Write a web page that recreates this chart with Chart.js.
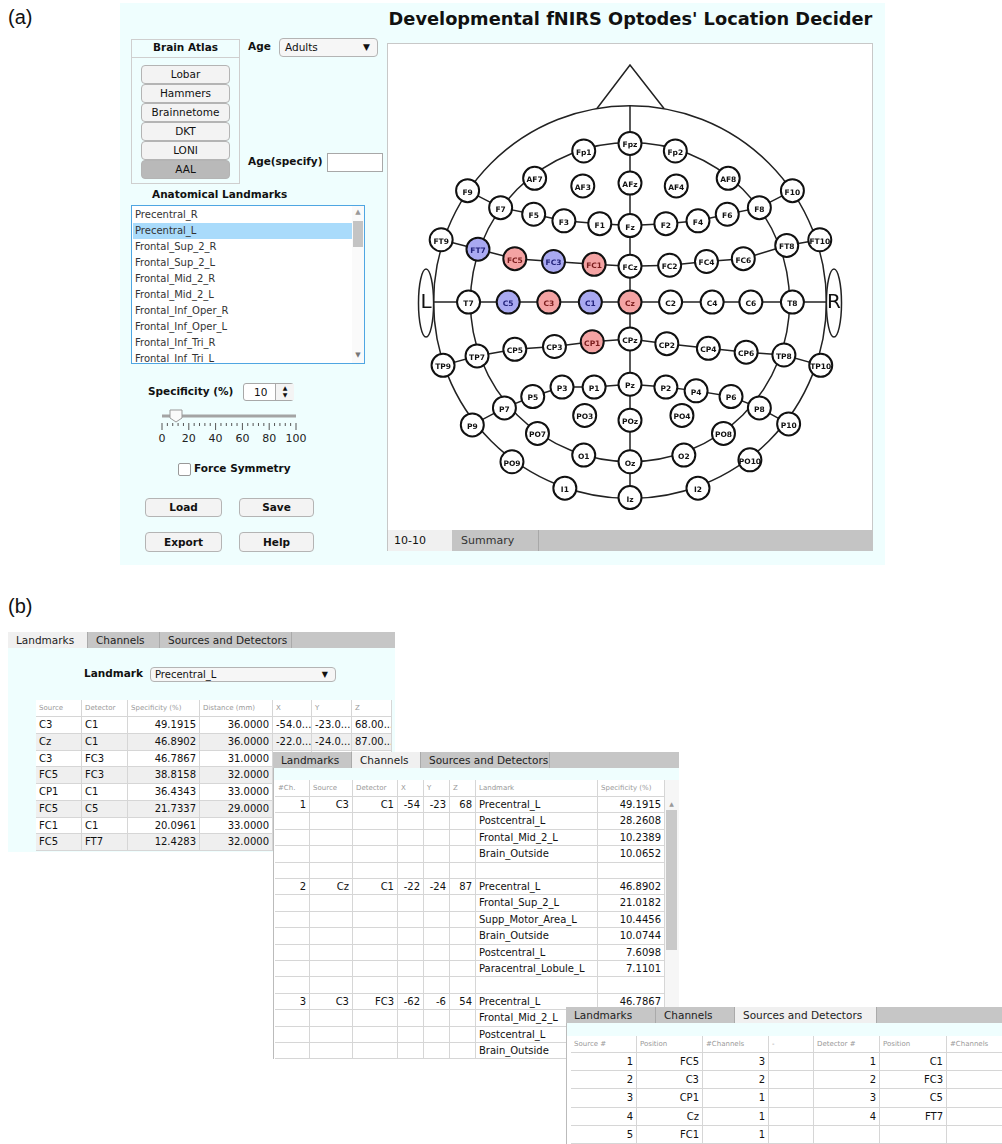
<!DOCTYPE html>
<html lang="en">
<head>
<meta charset="UTF-8">
<title>Developmental fNIRS Optodes' Location Decider</title>
<script src="https://cdn.jsdelivr.net/npm/chart.js"></script>
<style>
  body { margin: 0; background: #fff; font-family: "DejaVu Sans", sans-serif; color: #111; }
  #page { position: relative; width: 1002px; height: 1144px; overflow: hidden; }
  .a { position: absolute; white-space: nowrap; }
  .b { font-weight: bold; font-size: 10.5px; }
  .btn { position: absolute; box-sizing: border-box; border: 1px solid #b4b4b4; border-radius: 4px;
         background: #f3f3f3; font-size: 10.5px; text-align: center; }
  .fig { font-family: "Liberation Sans", Arial, sans-serif; font-size: 20px; }
  .cyan { background: #effefe; }
  .tabbar { position: absolute; background: #c6c6c6; height: 16px; font-size: 10.5px; }
  .tab { position: absolute; top: 0; height: 16px; line-height: 16px; box-sizing: border-box;
         border-right: 1px solid #aaa; padding-left: 8px; color: #222; }
  .tab.on { background: #f0f0f0; }
  .cell { position: absolute; box-sizing: border-box; border-right: 1px solid #d6d6d6; border-bottom: 1px solid #d6d6d6;
          overflow: hidden; white-space: nowrap; padding: 0 3px; font-size: 10px; }
  .hd { font-size: 7px; color: #999; }
</style>
</head>
<body>
<div id="page">
  <div class="a fig" style="left:8px;top:6px;">(a)</div>
  <div class="a fig" style="left:8px;top:595px;">(b)</div>

  <!-- panel (a) -->
  <div class="a cyan" style="left:120px;top:3px;width:765px;height:562px;"></div>
  <div class="a" style="left:383px;top:8px;width:495px;text-align:center;font-weight:bold;font-size:17.8px;">Developmental fNIRS Optodes' Location Decider</div>
  <div class="a" style="left:387px;top:43px;width:486px;height:488px;box-sizing:border-box;border:1px solid #c8c8c8;background:#fff;"></div>
  <canvas id="head" width="484" height="487" style="position:absolute;left:388px;top:43px;"></canvas>
  <div class="a" style="left:387px;top:530px;width:486px;height:21px;background:#c4c4c4;"></div>
  <div class="a" style="left:388px;top:530px;width:64px;height:21px;background:#f0f0f0;font-size:11px;line-height:21px;padding-left:6px;box-sizing:border-box;">10-10</div>
  <div class="a" style="left:452px;top:530px;width:87px;height:21px;border-right:1px solid #a8a8a8;font-size:11px;line-height:21px;padding-left:9px;box-sizing:border-box;color:#333;">Summary</div>

  <div class="a" style="left:131px;top:39px;width:109px;height:145px;box-sizing:border-box;border:1px solid #cfcfcf;"></div>
  <div class="a" style="left:131px;top:57px;width:109px;height:1px;background:#cfcfcf;"></div>
  <div class="a b" style="left:131px;top:41px;width:109px;text-align:center;">Brain Atlas</div>
  <div id="atlas"></div>

  <div class="a b" style="left:248px;top:40px;">Age</div>
  <div class="btn" style="left:279px;top:38px;width:99px;height:19px;line-height:17px;text-align:left;padding-left:5px;background:#f6f6f6;">Adults<span style="position:absolute;right:7px;font-size:9px;">&#9660;</span></div>
  <div class="a b" style="left:248px;top:155px;">Age(specify)</div>
  <div class="a" style="left:327px;top:153px;width:56px;height:19px;box-sizing:border-box;border:1px solid #a8a8a8;background:#fff;"></div>

  <div class="a b" style="left:152px;top:188px;">Anatomical Landmarks</div>
  <div class="a" style="left:131px;top:205px;width:234px;height:159px;box-sizing:border-box;border:1px solid #4fa6e2;background:#fff;overflow:hidden;">
    <div id="lmlist" style="position:absolute;left:0;top:0;width:221px;"></div>
    <div style="position:absolute;left:220px;top:0;width:12px;height:157px;background:#fafafa;"></div>
    <div style="position:absolute;left:221px;top:15px;width:10px;height:26px;background:#c4c4c4;"></div>
    <div style="position:absolute;left:221px;top:2px;width:10px;font-size:7px;color:#999;text-align:center;">&#9650;</div>
    <div style="position:absolute;left:221px;top:145px;width:10px;font-size:7px;color:#777;text-align:center;">&#9660;</div>
  </div>

  <div class="a b" style="left:148px;top:385px;">Specificity (%)</div>
  <div class="a" style="left:243px;top:383px;width:51px;height:18px;box-sizing:border-box;border:1px solid #a8a8a8;border-radius:3px;background:#fff;font-size:10.5px;line-height:16px;">
    <span style="position:absolute;left:10px;">10</span>
    <div style="position:absolute;left:31px;top:0;width:18px;height:16px;border-left:1px solid #aaa;background:#f4f4f4;font-size:6px;line-height:7px;text-align:center;">&#9650;<br>&#9660;</div>
  </div>
  <svg class="a" style="left:150px;top:404px;" width="160" height="42" id="slider"></svg>
  <div class="a" style="left:178px;top:463px;width:13px;height:13px;box-sizing:border-box;border:1px solid #999;border-radius:2px;background:#fff;"></div>
  <div class="a b" style="left:194px;top:462px;">Force Symmetry</div>
  <div class="btn b" style="left:145px;top:498px;width:77px;height:19px;line-height:17px;">Load</div>
  <div class="btn b" style="left:239px;top:498px;width:75px;height:19px;line-height:17px;">Save</div>
  <div class="btn b" style="left:145px;top:532px;width:77px;height:20px;line-height:18px;">Export</div>
  <div class="btn b" style="left:239px;top:532px;width:75px;height:20px;line-height:18px;">Help</div>

  <!-- panel (b) -->
  <div id="win1"></div>
  <div id="win2"></div>
  <div id="win3"></div>
</div>

<script>
// 10-10 electrode layout (units: px from Cz, y up)
const electrodeNames = ['Fp1','Fpz','Fp2','AF7','AF3','AFz','AF4','AF8',
  'F9','F7','F5','F3','F1','Fz','F2','F4','F6','F8','F10',
  'FT9','FT7','FC5','FC3','FC1','FCz','FC2','FC4','FC6','FT8','FT10',
  'T7','C5','C3','C1','Cz','C2','C4','C6','T8',
  'TP9','TP7','CP5','CP3','CP1','CPz','CP2','CP4','CP6','TP8','TP10',
  'P9','P7','P5','P3','P1','Pz','P2','P4','P6','P8','P10',
  'PO9','PO7','PO3','POz','PO4','PO8','PO10','O1','Oz','O2','I1','Iz','I2'];
const electrodeX = [-49,0,48,-101,-50,0,49,104,
  -172,-137,-102,-70,-32,0,38,72,103,137,172,
  -200,-161,-122,-81,-38,0,42,81,120,166,201,
  -171,-129,-86,-42,0,43,87,128,172,
  -198,-162,-122,-80,-40,0,39,83,123,163,202,
  -167,-133,-103,-72,-38,0,38,70,107,137,168,
  -125,-98,-48,0,55,99,127,-49,0,57,-69,0,72];
const electrodeY = [160,168,160,131,123,126,123,131,
  118,100,93,86,83,81,83,86,93,100,118,
  66,56,46,43,40,38,39,43,46,60,66,
  0,0,0,0,0,0,0,0,0,
  -67,-57,-50,-47,-42,-39,-44,-49,-53,-56,-67,
  -130,-112,-100,-90,-90,-87,-90,-94,-100,-112,-129,
  -169,-139,-120,-125,-120,-139,-167,-162,-169,-162,-197,-207,-197];

const sources = ['FC5','C3','CP1','Cz','FC1'];
const detectors = ['C1','FC3','C5','FT7'];

// connecting lines of the diagram
const rowF  = ['F9','F7','F5','F3','F1','Fz','F2','F4','F6','F8','F10'];
const rowFC = ['FT9','FT7','FC5','FC3','FC1','FCz','FC2','FC4','FC6','FT8','FT10'];
const rowC  = ['T7','C5','C3','C1','Cz','C2','C4','C6','T8'];
const rowCP = ['TP9','TP7','CP5','CP3','CP1','CPz','CP2','CP4','CP6','TP8','TP10'];
const rowP  = ['P9','P7','P5','P3','P1','Pz','P2','P4','P6','P8','P10'];
const midline = ['Fpz','AFz','Fz','FCz','Cz','CPz','Pz','POz','Oz','Iz'];
const OUTER_R = 208, INNER_R = 169;

// left panel lists
const atlases = ['Lobar','Hammers','Brainnetome','DKT','LONI','AAL'];
const landmarkList = ['Precentral_R','Precentral_L','Frontal_Sup_2_R','Frontal_Sup_2_L','Frontal_Mid_2_R',
  'Frontal_Mid_2_L','Frontal_Inf_Oper_R','Frontal_Inf_Oper_L','Frontal_Inf_Tri_R','Frontal_Inf_Tri_L'];

// (b) tables
const lmHeaders = ['Source','Detector','Specificity (%)','Distance (mm)','X','Y','Z'];
const lmSource = ['C3','Cz','C3','FC5','CP1','FC5','FC1','FC5'];
const lmDetector = ['C1','C1','FC3','FC3','C1','C5','C1','FT7'];
const lmSpecificity = ['49.1915','46.8902','46.7867','38.8158','36.4343','21.7337','20.0961','12.4283'];
const lmDistance = ['36.0000','36.0000','31.0000','32.0000','33.0000','29.0000','33.0000','32.0000'];
const lmX = ['-54.0...','-22.0...','-62.0...','','','','',''];
const lmY = ['-23.0...','-24.0...','-6.00...','','','','',''];
const lmZ = ['68.00...','87.00...','54.00...','','','','',''];

const chHeaders = ['#Ch.','Source','Detector','X','Y','Z','Landmark','Specificity (%)'];
const chNum = ['1','','','','','2','','','','','','','3','','',''];
const chSource = ['C3','','','','','Cz','','','','','','','C3','','',''];
const chDetector = ['C1','','','','','C1','','','','','','','FC3','','',''];
const chX = ['-54','','','','','-22','','','','','','','-62','','',''];
const chY = ['-23','','','','','-24','','','','','','','-6','','',''];
const chZ = ['68','','','','','87','','','','','','','54','','',''];
const chLandmark = ['Precentral_L','Postcentral_L','Frontal_Mid_2_L','Brain_Outside','',
  'Precentral_L','Frontal_Sup_2_L','Supp_Motor_Area_L','Brain_Outside','Postcentral_L','Paracentral_Lobule_L','',
  'Precentral_L','Frontal_Mid_2_L','Postcentral_L','Brain_Outside'];
const chSpecificity = ['49.1915','28.2608','10.2389','10.0652','',
  '46.8902','21.0182','10.4456','10.0744','7.6098','7.1101','',
  '46.7867','','',''];

const sdHeaders = ['Source #','Position','#Channels','-','Detector #','Position','#Channels'];
const sdSourceNum = ['1','2','3','4','5'];
const sdSourcePos = ['FC5','C3','CP1','Cz','FC1'];
const sdSourceCh = ['3','2','1','1','1'];
const sdDetectorNum = ['1','2','3','4',''];
const sdDetectorPos = ['C1','FC3','C5','FT7',''];
const sdDetectorCh = ['','','','',''];

// ---------- left panel widgets ----------
let h = '';
atlases.forEach((a, i) => {
  const bg = a === 'AAL' ? '#b9b9b9' : '#f3f3f3';
  h += `<div class="btn" style="left:141px;top:${65 + i * 19}px;width:89px;height:19px;line-height:17px;background:${bg};">${a}</div>`;
});
document.getElementById('atlas').innerHTML = h;

h = '';
landmarkList.forEach((l, i) => {
  const bg = l === 'Precentral_L' ? '#a9dbfb' : 'transparent';
  h += `<div style="position:absolute;left:1px;top:${1 + i * 16}px;width:219px;height:16px;line-height:16px;padding-left:2px;font-size:10px;color:#333;background:${bg};">${l}</div>`;
});
document.getElementById('lmlist').innerHTML = h;

// slider
(function () {
  const s = document.getElementById('slider');
  const ox = 150, oy = 404;
  let g = `<line x1="${162 - ox}" y1="${416 - oy}" x2="${296 - ox}" y2="${416 - oy}" stroke="#a4a4a4" stroke-width="3"/>`;
  for (let v = 0; v <= 100; v += 4) {
    const x = 162 - ox + v * 1.34;
    const major = v % 20 === 0;
    g += `<line x1="${x}" y1="${423 - oy}" x2="${x}" y2="${(major ? 430 : 426) - oy}" stroke="#555" stroke-width="1"/>`;
  }
  for (let v = 0; v <= 100; v += 20) {
    g += `<text x="${162 - ox + v * 1.34}" y="${442 - oy}" font-size="11" text-anchor="middle" font-family="DejaVu Sans" fill="#222">${v}</text>`;
  }
  const hx = 176 - ox, hy = 410 - oy;
  g += `<polygon points="${hx - 6},${hy} ${hx + 6},${hy} ${hx + 6},${hy + 8} ${hx},${hy + 12} ${hx - 6},${hy + 8}" fill="#fafafa" stroke="#999"/>`;
  s.innerHTML = g;
})();

// ---------- tables in (b) ----------
function tabBar(left, top, width, tabs, active) {
  let x = left, out = `<div class="tabbar" style="left:${left}px;top:${top}px;width:${width}px;"></div>`;
  tabs.forEach((t, i) => {
    out += `<div class="tabbar tab${i === active ? ' on' : ''}" style="left:${x}px;top:${top}px;width:${t[1]}px;">${t[0]}</div>`;
    x += t[1];
  });
  return out;
}
function grid(left, top, widths, headH, rowH, headers, cols, aligns, stripe) {
  let out = '', x = left;
  widths.forEach((w, c) => {
    out += `<div class="cell hd" style="left:${x}px;top:${top}px;width:${w}px;height:${headH}px;line-height:${headH}px;background:#fff;">${headers[c]}</div>`;
    cols[c].forEach((v, r) => {
      const y = top + headH + r * rowH;
      const bg = stripe && r % 2 === 1 ? '#efefef' : '#fff';
      out += `<div class="cell" style="left:${x}px;top:${y.toFixed(1)}px;width:${w}px;height:${rowH.toFixed(1)}px;line-height:${rowH - 1}px;text-align:${aligns[c]};background:${bg};">${v}</div>`;
    });
    x += w;
  });
  return out;
}

document.getElementById('win1').innerHTML =
  `<div class="a cyan" style="left:8px;top:648px;width:387px;height:204px;"></div>` +
  tabBar(8, 632, 387, [['Landmarks', 80], ['Channels', 72], ['Sources and Detectors', 132]], 0) +
  `<div class="a b" style="left:84px;top:667px;">Landmark</div>` +
  `<div class="btn" style="left:150px;top:667px;width:186px;height:15px;line-height:13px;text-align:left;padding-left:4px;font-size:10px;background:#f6f6f6;">Precentral_L<span style="position:absolute;right:7px;font-size:8px;">&#9660;</span></div>` +
  `<div class="a" style="left:36px;top:700px;width:356px;height:151px;border-left:1px solid #d6d6d6;border-top:1px solid #d6d6d6;box-sizing:border-box;"></div>` +
  grid(36, 700, [46, 46, 72, 73, 39, 40, 40], 17, 16.75,
    lmHeaders, [lmSource, lmDetector, lmSpecificity, lmDistance, lmX, lmY, lmZ],
    ['left', 'left', 'right', 'right', 'left', 'left', 'left'], true);

document.getElementById('win2').innerHTML =
  `<div class="a" style="left:273px;top:752px;width:406px;height:307px;background:#fff;border-left:1px solid #bbb;box-sizing:border-box;"></div>` +
  `<div class="a cyan" style="left:274px;top:768px;width:405px;height:12px;"></div>` +
  tabBar(273, 752, 406, [['Landmarks', 79], ['Channels', 69], ['Sources and Detectors', 129]], 1) +
  grid(275, 780, [35, 43, 45, 26, 26, 26, 122, 67], 17, 16.4,
    chHeaders, [chNum, chSource, chDetector, chX, chY, chZ, chLandmark, chSpecificity],
    ['right', 'right', 'right', 'right', 'right', 'right', 'left', 'right'], false) +
  `<div class="a" style="left:665px;top:780px;width:14px;height:279px;background:#f6f6f6;"></div>` +
  `<div class="a" style="left:666px;top:810px;width:11px;height:140px;background:#c9c9c9;"></div>` +
  `<div class="a" style="left:666px;top:800px;width:11px;font-size:6px;color:#999;text-align:center;">&#9650;</div>`;

document.getElementById('win3').innerHTML =
  `<div class="a" style="left:566px;top:1007px;width:436px;height:137px;background:#fff;border-left:1px solid #bbb;box-sizing:border-box;"></div>` +
  `<div class="a cyan" style="left:567px;top:1023px;width:435px;height:13px;"></div>` +
  tabBar(566, 1007, 436, [['Landmarks', 90], ['Channels', 79], ['Sources and Detectors', 142]], 2) +
  grid(571, 1036, [66, 66, 66, 45, 66, 67, 63], 17, 18.2,
    sdHeaders, [sdSourceNum, sdSourcePos, sdSourceCh, ['', '', '', '', ''], sdDetectorNum, sdDetectorPos, sdDetectorCh],
    ['right', 'right', 'right', 'right', 'right', 'right', 'right'], false);

// ---------- head diagram with Chart.js ----------
const pos = {};
electrodeNames.forEach((n, i) => { pos[n] = { x: electrodeX[i], y: electrodeY[i] }; });
const pts = names => names.map(n => pos[n]);

const lineStyle = { type: 'line', showLine: true, borderColor: '#222', borderWidth: 1.5,
  pointRadius: 0, tension: 0, fill: false, order: 2 };
const lineSets = [
  pts(rowF), pts(rowFC), pts(rowCP), pts(rowP),
  [{ x: -OUTER_R, y: 0 }].concat(pts(rowC), [{ x: OUTER_R, y: 0 }]),
  [{ x: 0, y: OUTER_R }].concat(pts(midline))
].map(d => Object.assign({ data: d }, lineStyle));

const fillFor = n => sources.includes(n) ? '#f4a3a3' : detectors.includes(n) ? '#a9a9f1' : '#ffffff';
const inkFor = n => sources.includes(n) ? '#7a1c1c' : detectors.includes(n) ? '#22227a' : '#111';

const headOutline = {
  id: 'headOutline',
  beforeDatasetsDraw(chart) {
    const { ctx, scales: { x, y } } = chart;
    const px = v => x.getPixelForValue(v), py = v => y.getPixelForValue(v);
    const u = px(1) - px(0);
    ctx.save();
    ctx.strokeStyle = '#222';
    ctx.lineWidth = 1.5;
    [OUTER_R, INNER_R].forEach(r => {
      ctx.beginPath();
      ctx.arc(px(0), py(0), r * u, 0, Math.PI * 2);
      ctx.stroke();
    });
    // nose
    ctx.beginPath();
    ctx.moveTo(px(-35), py(205));
    ctx.lineTo(px(0), py(251));
    ctx.lineTo(px(36), py(205));
    ctx.stroke();
    // ears
    ctx.fillStyle = '#fff';
    [[-216, 'L'], [216, 'R']].forEach(([cx, t]) => {
      ctx.beginPath();
      ctx.ellipse(px(cx), py(-1), 8 * u, 36 * u, 0, 0, Math.PI * 2);
      ctx.fill();
      ctx.stroke();
      ctx.fillStyle = '#111';
      ctx.font = '20px "DejaVu Sans"';
      ctx.textAlign = 'center';
      ctx.textBaseline = 'middle';
      ctx.fillText(t, px(cx), py(-1));
      ctx.fillStyle = '#fff';
    });
    ctx.restore();
  }
};
const electrodeLabels = {
  id: 'electrodeLabels',
  afterDatasetsDraw(chart) {
    const { ctx } = chart;
    const meta = chart.getDatasetMeta(chart.data.datasets.length - 1);
    ctx.save();
    ctx.font = 'bold 7.5px "DejaVu Sans"';
    ctx.textAlign = 'center';
    ctx.textBaseline = 'middle';
    meta.data.forEach((el, i) => {
      const n = electrodeNames[i];
      ctx.fillStyle = inkFor(n);
      ctx.fillText(n, el.x, el.y + 2);
    });
    ctx.restore();
  }
};

new Chart(document.getElementById('head'), {
  type: 'scatter',
  data: {
    datasets: lineSets.concat([{
      data: pts(electrodeNames),
      pointRadius: 11.5,
      pointHoverRadius: 11.5,
      pointBorderWidth: 2,
      pointBackgroundColor: electrodeNames.map(fillFor),
      pointBorderColor: '#111',
      order: 0
    }])
  },
  options: {
    responsive: false,
    animation: false,
    events: [],
    layout: { padding: 0 },
    plugins: { legend: { display: false }, tooltip: { enabled: false } },
    scales: {
      x: { type: 'linear', min: -242, max: 242, display: false },
      y: { type: 'linear', min: -227, max: 260, display: false }
    }
  },
  plugins: [headOutline, electrodeLabels]
});
</script>
</body>
</html>
